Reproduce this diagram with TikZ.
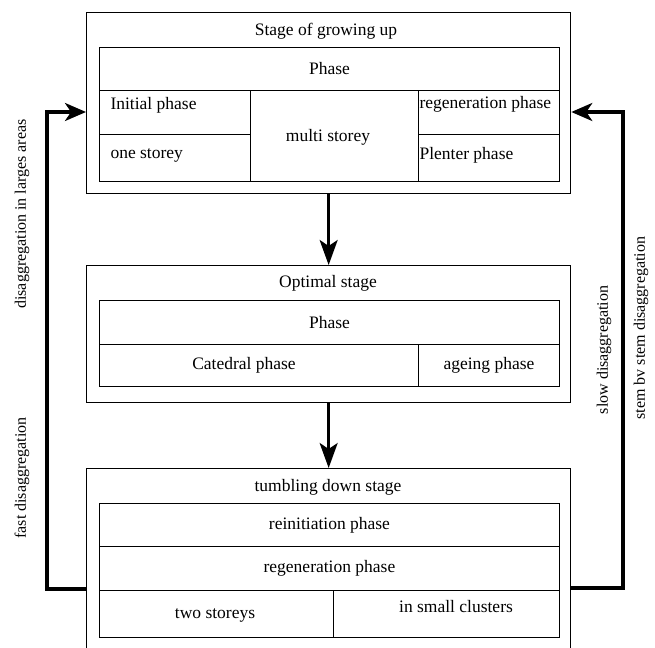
\documentclass[tikz,border=0pt]{standalone}
\usepackage{fontspec}
\setmainfont{Liberation Serif}
\usetikzlibrary{arrows.meta}

\begin{document}
\begin{tikzpicture}[x=1pt,y=-1pt,font=\fontsize{17.5}{20}\selectfont]
\useasboundingbox (0,0) rectangle (655,647);
\clip (0,0) rectangle (655,647);

\tikzset{
  stagebox/.style={draw, line width=1.3pt, anchor=north west, inner sep=0pt},
  cell/.style={draw, line width=0.9pt, anchor=north west, inner sep=0pt},
  sidelabel/.style={rotate=90, font=\fontsize{16}{19}\selectfont},
  loopline/.style={line width=3.2pt, -{Stealth[length=21pt,width=18pt,inset=6pt]}},
  flowarrow/.style={line width=2.6pt, -{Stealth[length=25pt,width=18pt,inset=6pt]}}
}

% stage of growing up
\node [stagebox, minimum width=484pt, minimum height=181pt] (grow) at (86,12) {};
\node (growtitle) at (326,31) {Stage of growing up};
\node [cell, minimum width=460pt, minimum height=43pt] (growphase) at (99,47) {Phase};
\node [cell, minimum width=151pt, minimum height=44pt] (initcell) at (99,90) {};
\node [cell, minimum width=151pt, minimum height=47pt] (onecell) at (99,134) {};
\node [cell, minimum width=168pt, minimum height=91pt] (multicell) at (250,90) {};
\node [cell, minimum width=141pt, minimum height=44pt] (regencell) at (418,90) {};
\node [cell, minimum width=141pt, minimum height=47pt] (plentercell) at (418,134) {};
\node [right] (init) at (107,105) {Initial phase};
\node [right] (one) at (107,155) {one storey};
\node (multi) at (328,137) {multi storey};
\node [right] (regen) at (416,104) {regeneration phase};
\node [right] (plenter) at (416,155) {Plenter phase};

% optimal stage
\node [stagebox, minimum width=484pt, minimum height=137pt] (opt) at (86,265) {};
\node (opttitle) at (328,283) {Optimal stage};
\node [cell, minimum width=460pt, minimum height=44pt] (optphase) at (99,300) {Phase};
\node [cell, minimum width=319pt, minimum height=42pt] (catcell) at (99,344) {};
\node [cell, minimum width=141pt, minimum height=42pt] (ageing) at (418,344) {ageing phase};
\node (catedral) at (244,365) {Catedral phase};

% tumbling down stage
\node [stagebox, minimum width=484pt, minimum height=200pt] (tumble) at (86,468) {};
\node (tumbletitle) at (328,487) {tumbling down stage};
\node [cell, minimum width=460pt, minimum height=43pt] (reinit) at (99,503) {reinitiation phase};
\node [cell, minimum width=460pt, minimum height=44pt] (regenb) at (99,546) {regeneration phase};
\node [cell, minimum width=234pt, minimum height=47pt] (twocell) at (99,590) {};
\node [cell, minimum width=226pt, minimum height=47pt] (clustcell) at (333,590) {};
\node (two) at (215,615) {two storeys};
\node (clusters) at (456,607) {in small clusters};

\draw [flowarrow] (grow.south) -- (opt.north);
\draw [flowarrow] (opt.south) -- (tumble.north);

% the two ways back
\coordinate (leftlow) at (47,589); \coordinate (lefthigh) at (47,112);
\coordinate (rightlow) at (623,588); \coordinate (righthigh) at (623,112);
\draw [loopline] (tumble.west |- leftlow) -- (leftlow) -- (lefthigh) -- (grow.west |- lefthigh);
\draw [loopline] (tumble.east |- rightlow) -- (rightlow) -- (righthigh) -- (grow.east |- righthigh);

\node [sidelabel] (largeareas) at (22,214) {disaggregation in larges areas};
\node [sidelabel] (fastdis) at (22,478) {fast disaggregation};
\node [sidelabel] (slowdis) at (604,350) {slow disaggregation};
\node [sidelabel] (stemdis) at (641,328) {stem bv stem disaggregation};

\end{tikzpicture}
\end{document}
